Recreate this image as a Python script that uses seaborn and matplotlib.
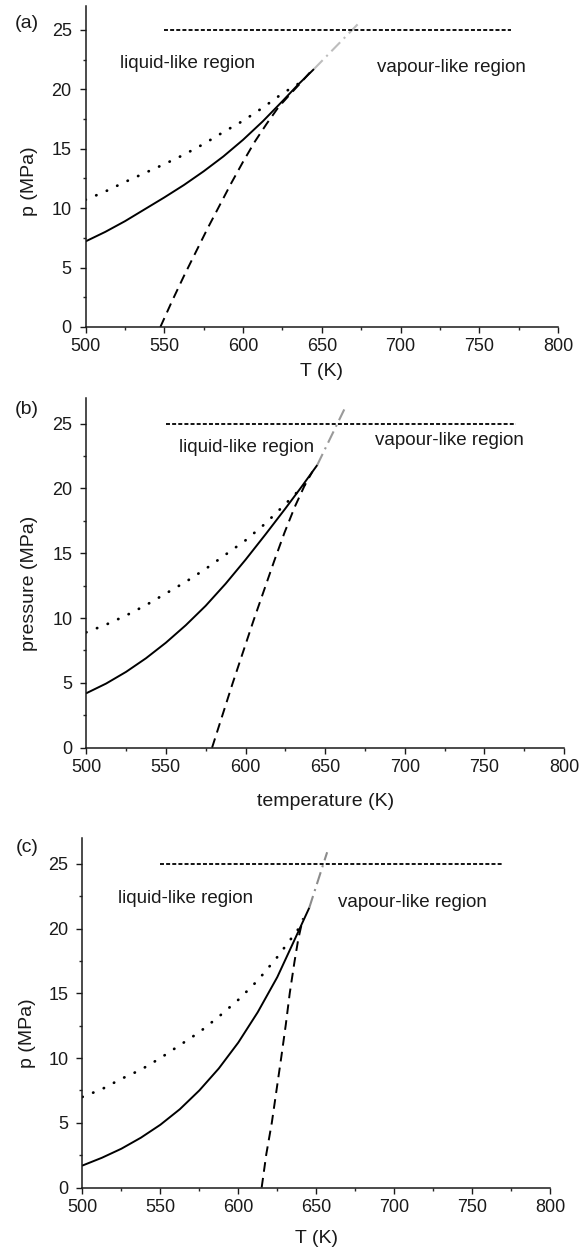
import seaborn as sns
import matplotlib.pyplot as plt
from matplotlib.ticker import MultipleLocator

sns.set_style("ticks")
plt.rcParams['font.family'] = ['Liberation Sans', 'DejaVu Sans']

# ---- panel (a) ----
a_solid_T = [500, 512.5, 525, 537.5, 550, 562.5, 575, 587.5, 600, 612.5, 625, 635, 645]
a_solid_p = [7.2, 8.0, 8.9, 9.9, 10.9, 11.95, 13.1, 14.35, 15.75, 17.3, 19.0, 20.4, 21.7]
a_dot_T = [500, 512.5, 525, 537.5, 550, 562.5, 575, 587.5, 600, 612.5, 625, 638]
a_dot_p = [10.7, 11.4, 12.2, 12.95, 13.7, 14.5, 15.4, 16.4, 17.35, 18.45, 19.65, 20.7]
a_dash_T = [547.5, 555, 562.5, 570, 577.5, 585, 592.5, 600, 607.5, 615, 622.5, 630, 637, 643]
a_dash_p = [0, 2.2, 4.3, 6.3, 8.3, 10.2, 12.1, 13.9, 15.6, 17.1, 18.5, 19.6, 20.6, 21.5]
a_crit_T = [645, 673]
a_crit_p = [21.7, 25.5]

# ---- panel (b) ----
b_solid_T = [500, 512.5, 525, 537.5, 550, 562.5, 575, 587.5, 600, 612.5, 625, 635, 645]
b_solid_p = [4.2, 4.95, 5.85, 6.9, 8.1, 9.45, 10.95, 12.65, 14.5, 16.45, 18.45, 20.1, 21.8]
b_dot_T = [500, 512.5, 525, 537.5, 550, 562.5, 575, 587.5, 600, 612.5, 625, 638]
b_dot_p = [8.9, 9.5, 10.2, 11.0, 11.9, 12.8, 13.8, 14.9, 16.0, 17.3, 18.8, 20.4]
b_dash_T = [579, 585.5, 592, 598.5, 605, 611.5, 618, 624.5, 631, 637, 642]
b_dash_p = [0, 2.5, 5.0, 7.4, 9.8, 12.1, 14.4, 16.6, 18.6, 20.2, 21.3]
b_crit_T = [645, 662]
b_crit_p = [21.8, 26.1]

# ---- panel (c) ----
c_solid_T = [500, 512.5, 525, 537.5, 550, 562.5, 575, 587.5, 600, 612.5, 625, 635, 645.5]
c_solid_p = [1.7, 2.3, 3.0, 3.85, 4.85, 6.05, 7.5, 9.2, 11.2, 13.55, 16.25, 18.85, 21.6]
c_dot_T = [500, 512.5, 525, 537.5, 550, 562.5, 575, 587.5, 600, 612.5, 625, 640]
c_dot_p = [7.0, 7.6, 8.4, 9.1, 10.0, 11.0, 12.0, 13.2, 14.5, 16.0, 17.8, 20.2]
c_dash_T = [615, 618, 621.5, 624.5, 627.5, 630.5, 633, 636, 638.5, 641.5]
c_dash_p = [0, 2.6, 5.0, 7.5, 10.0, 12.6, 15.0, 17.4, 19.2, 20.8]
c_crit_T = [645.5, 657]
c_crit_p = [21.6, 25.9]

# horizontal line at 25 MPa
hline_T = [550, 770]
hline_p = [25, 25]

panels = [
    dict(solid=(a_solid_T, a_solid_p), dot=(a_dot_T, a_dot_p), dash=(a_dash_T, a_dash_p),
         crit=(a_crit_T, a_crit_p), crit_color='#bdbdbd', letter='(a)',
         ylabel='p (MPa)', xlabel='T (K)',
         liquid=(522, 22.2), vapour=(685, 21.8),
         rect=[0.1463, 0.7397, 0.8075, 0.2554], letter_xy=(27, 23),
         ylab_y=0.455, xlab_y=-0.112),
    dict(solid=(b_solid_T, b_solid_p), dot=(b_dot_T, b_dot_p), dash=(b_dash_T, b_dash_p),
         crit=(b_crit_T, b_crit_p), crit_color='#9a9a9a', letter='(b)',
         ylabel='pressure (MPa)', xlabel='temperature (K)',
         liquid=(558, 23.2), vapour=(681, 23.7),
         rect=[0.1474, 0.4047, 0.8168, 0.2786], letter_xy=(27, 410),
         ylab_y=0.47, xlab_y=-0.1295),
    dict(solid=(c_solid_T, c_solid_p), dot=(c_dot_T, c_dot_p), dash=(c_dash_T, c_dash_p),
         crit=(c_crit_T, c_crit_p), crit_color='#8c8c8c', letter='(c)',
         ylabel='p (MPa)', xlabel='T (K)',
         liquid=(523, 22.3), vapour=(664, 22.0),
         rect=[0.1409, 0.0545, 0.7993, 0.2783], letter_xy=(27, 847),
         ylab_y=0.443, xlab_y=-0.1216),
]

W, H = 585, 1256
fig = plt.figure(figsize=(W / 100, H / 100), dpi=100)

for p in panels:
    ax = fig.add_axes(p['rect'])
    sns.lineplot(x=p['solid'][0], y=p['solid'][1], ax=ax, color='black', lw=1.4)
    sns.lineplot(x=p['dot'][0], y=p['dot'][1], ax=ax, color='black', lw=2.0,
                 linestyle=(0, (0.1, 4.05)), dash_capstyle='round')
    sns.lineplot(x=p['dash'][0], y=p['dash'][1], ax=ax, color='black', lw=1.4,
                 linestyle=(0, (5.0, 3.2)))
    sns.lineplot(x=p['crit'][0], y=p['crit'][1], ax=ax, color=p['crit_color'], lw=1.5,
                 linestyle=(0, (6, 2.5, 1, 2.5)))
    sns.lineplot(x=hline_T, y=hline_p, ax=ax, color='black', lw=1.3,
                 linestyle=(0, (2.2, 1.2)))

    ax.text(*p['liquid'], 'liquid-like region', fontsize=13.5, ha='left', va='center', color='#1a1a1a')
    ax.text(*p['vapour'], 'vapour-like region', fontsize=13.5, ha='left', va='center', color='#1a1a1a')

    ax.set_xlim(500, 800)
    ax.set_ylim(0, 27)
    ax.xaxis.set_major_locator(MultipleLocator(50))
    ax.xaxis.set_minor_locator(MultipleLocator(25))
    ax.yaxis.set_major_locator(MultipleLocator(5))
    ax.yaxis.set_minor_locator(MultipleLocator(2.5))
    ax.tick_params(which='major', direction='out', length=4, width=1, labelsize=13,
                   colors='#1a1a1a')
    ax.tick_params(which='minor', direction='out', length=2.5, width=1)
    ax.tick_params(axis='y', which='major', pad=6)
    ax.tick_params(axis='x', which='major', pad=4)
    for s in ('left', 'bottom'):
        ax.spines[s].set_linewidth(1.1)
        ax.spines[s].set_color('#1a1a1a')
    sns.despine(ax=ax)

    ax.set_xlabel(p['xlabel'], fontsize=14, color='#1a1a1a')
    ax.set_ylabel(p['ylabel'], fontsize=14, color='#1a1a1a')
    ax.xaxis.set_label_coords(0.5, p['xlab_y'])
    ax.yaxis.set_label_coords(-0.10, p['ylab_y'])

    fig.text(p['letter_xy'][0] / W, 1 - p['letter_xy'][1] / H, p['letter'],
             fontsize=14, ha='center', va='center', color='#1a1a1a')

fig.savefig('out.png', dpi=100)
